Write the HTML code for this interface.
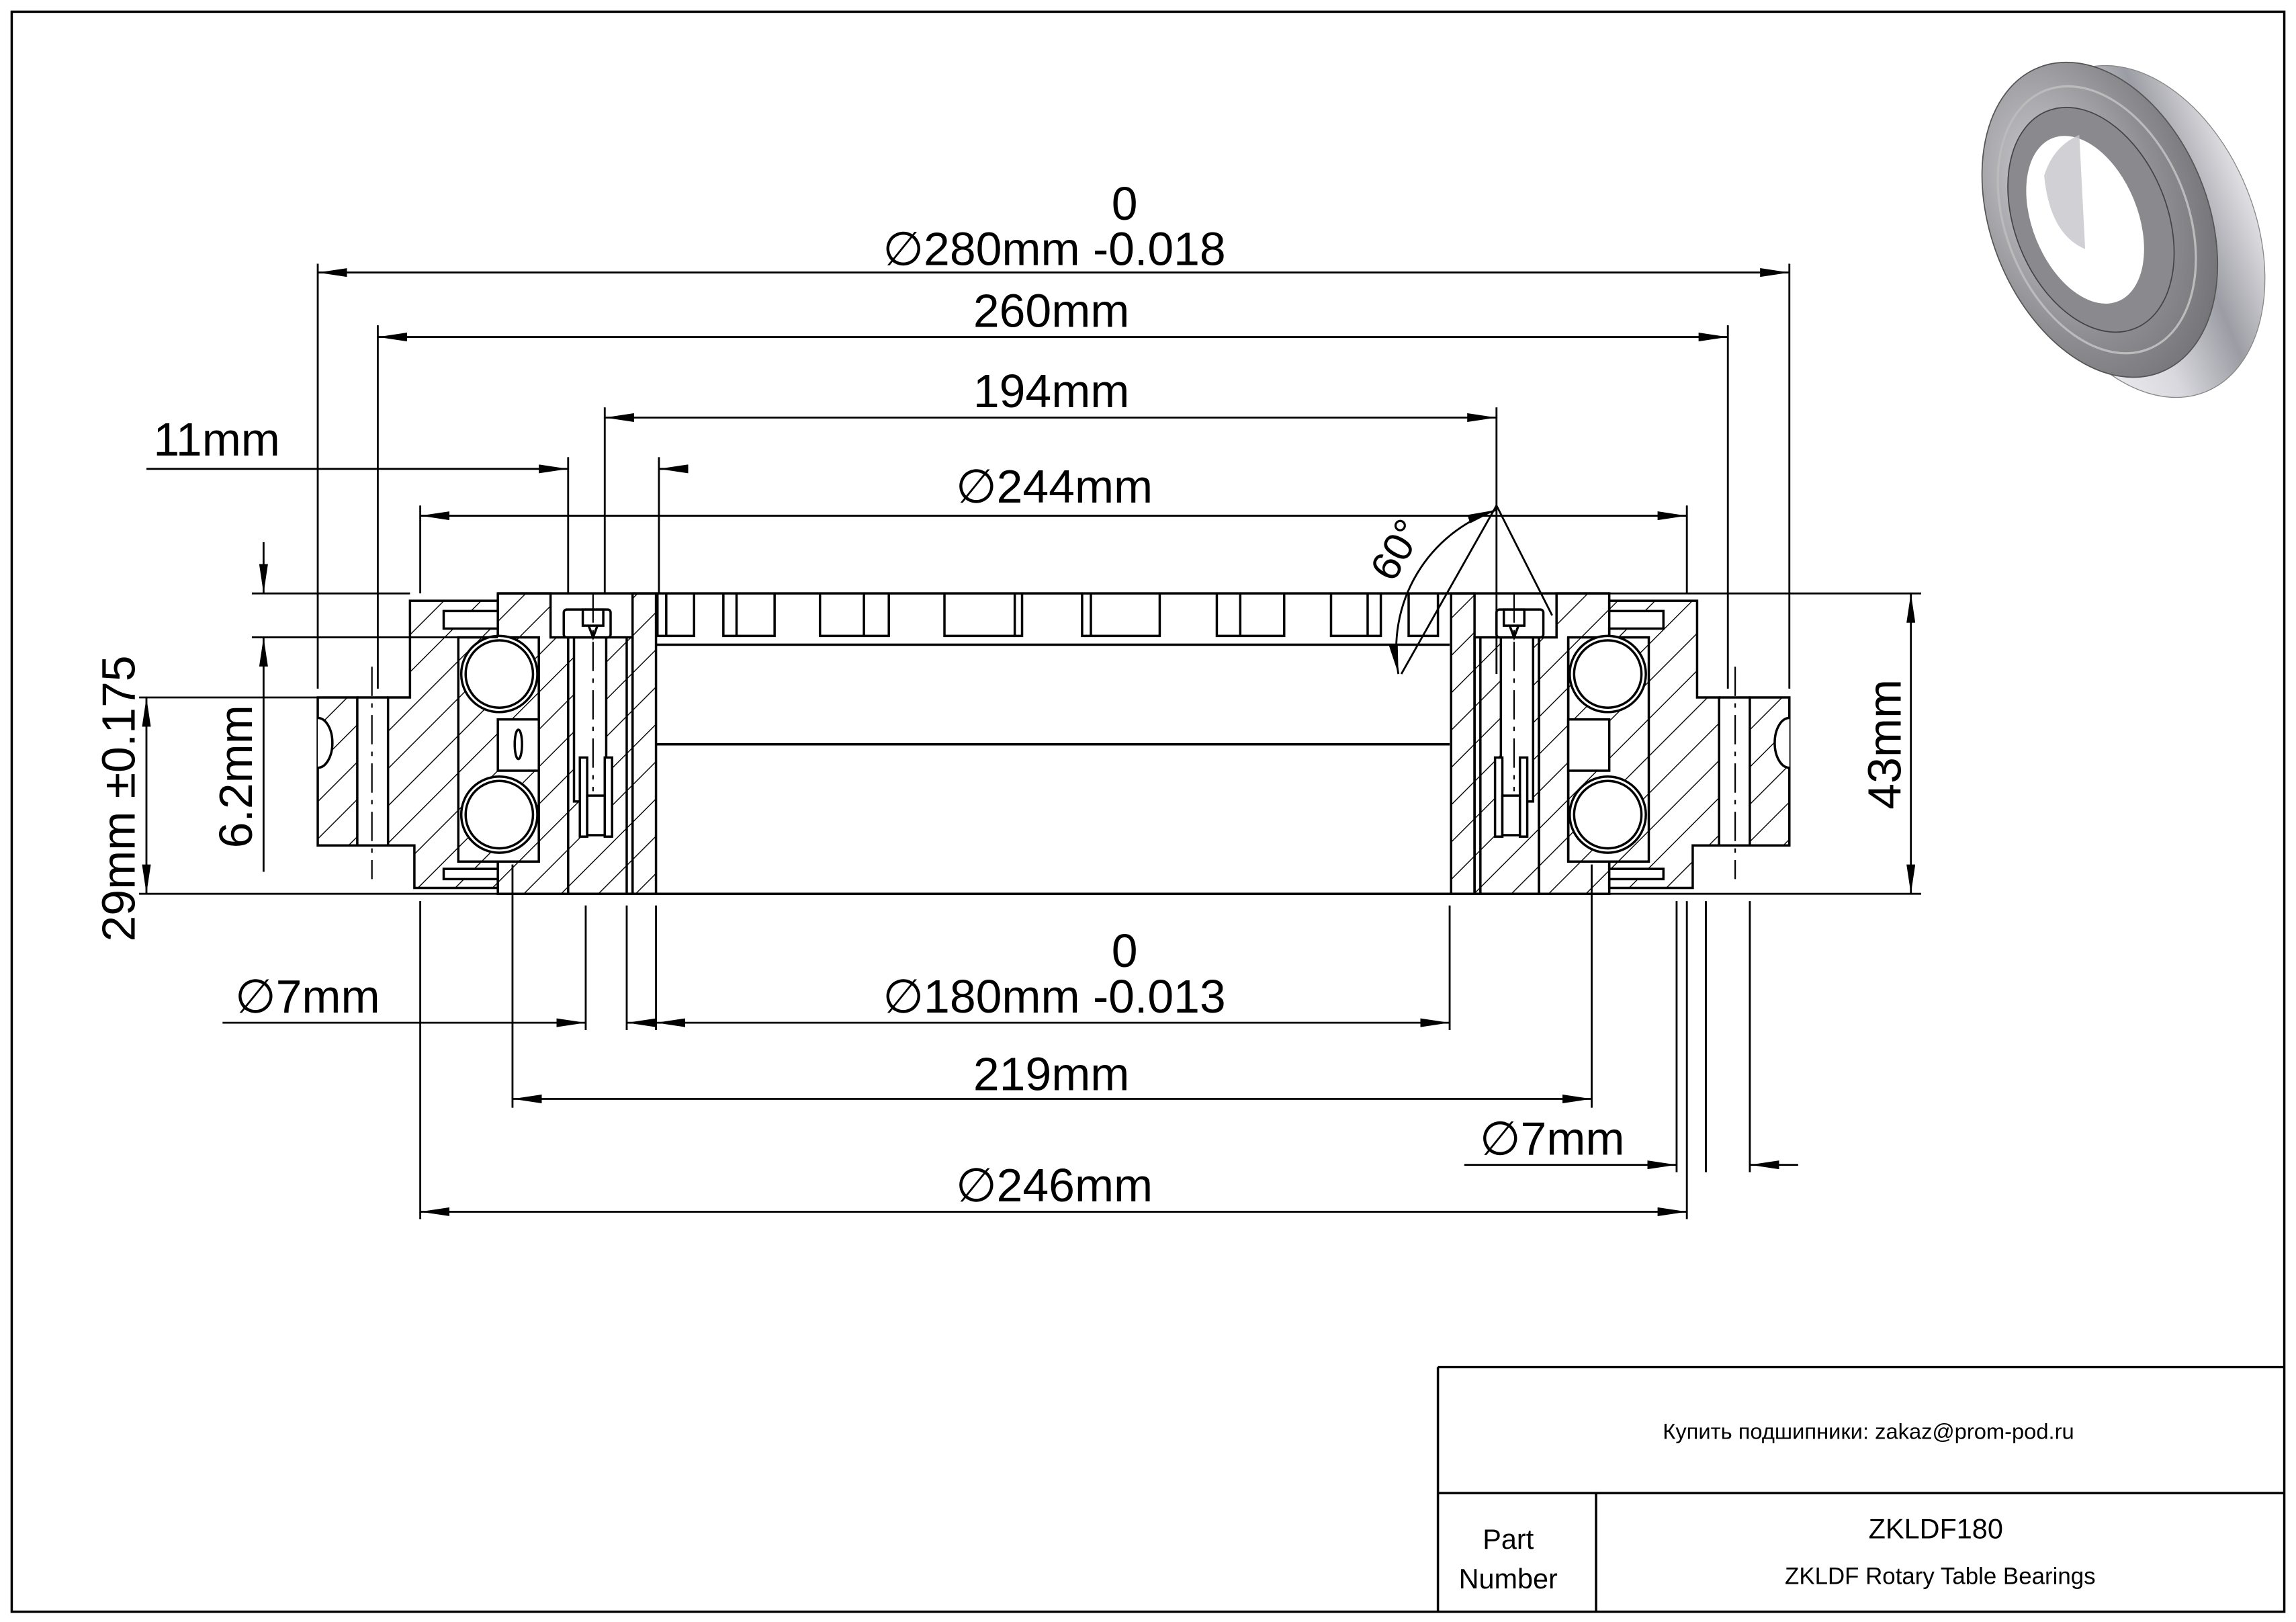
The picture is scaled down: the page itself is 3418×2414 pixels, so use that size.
<!DOCTYPE html>
<html><head><meta charset="utf-8"><style>
html,body{margin:0;padding:0;background:#fff;}
svg{display:block;}
text{font-family:"Liberation Sans",sans-serif;fill:#000;}
</style></head><body>
<svg width="3418" height="2414" viewBox="0 0 1568 1107" preserveAspectRatio="none" xmlns="http://www.w3.org/2000/svg">
<defs>
<pattern id="h" width="18" height="18" patternUnits="userSpaceOnUse" patternTransform="rotate(45)"><line x1="0" y1="0" x2="0" y2="18" stroke="#000" stroke-width="1.3"/></pattern>
<pattern id="hm" width="18" height="18" patternUnits="userSpaceOnUse" patternTransform="rotate(-45)"><line x1="0" y1="0" x2="0" y2="18" stroke="#000" stroke-width="1.3"/></pattern>
<marker id="a" viewBox="0 0 20 6" refX="20" refY="3" markerWidth="20" markerHeight="6" markerUnits="userSpaceOnUse" orient="auto-start-reverse"><path d="M0,0 L20,3 L0,6 Z" fill="#000"/></marker>
<radialGradient id="met" cx="0.35" cy="0.35" r="0.8"><stop offset="0" stop-color="#d0d0d4"/><stop offset="0.6" stop-color="#8e8e92"/><stop offset="1" stop-color="#6c6c70"/></radialGradient>
<linearGradient id="side" x1="0" y1="0" x2="1" y2="0"><stop offset="0" stop-color="#f4f4f6"/><stop offset="0.4" stop-color="#d8d8de"/><stop offset="0.7" stop-color="#9c9ca4"/><stop offset="1" stop-color="#e0e0e4"/></linearGradient>
</defs>
<rect x="0" y="0" width="1568" height="1107" fill="#fff"/>
<rect x="8" y="8" width="1552" height="1092" fill="none" stroke="#000" stroke-width="1.6"/>

<!-- 3D render -->
<g>
  <ellipse cx="1462" cy="158" rx="78" ry="118" transform="rotate(-22 1462 158)" fill="url(#side)" stroke="#888" stroke-width="0.6"/>
  <ellipse cx="1434" cy="150" rx="74" ry="112" transform="rotate(-22 1434 150)" fill="url(#met)" stroke="#555" stroke-width="0.8"/>
  <ellipse cx="1432" cy="150" rx="62" ry="95" transform="rotate(-22 1432 150)" fill="none" stroke="#bbb" stroke-width="1.5"/>
  <ellipse cx="1428" cy="150" rx="52" ry="80" transform="rotate(-22 1428 150)" fill="#8a8a8e" stroke="#444" stroke-width="0.8"/>
  <ellipse cx="1424" cy="150" rx="36" ry="60" transform="rotate(-22 1424 150)" fill="#fff"/>
  <path d="M1396,120 Q1402,100 1420,92 L1424,170 Q1400,160 1396,120 Z" fill="#c4c4ca" opacity="0.8"/>
</g>

<!-- left section -->
<g stroke="#000" stroke-width="1.6">
  <rect x="217" y="476" width="27" height="101" fill="url(#h)"/>
  <path d="M217,490 A10 17 0 0 1 217,524" fill="#fff"/>
  <path d="M265,476 L280,476 L280,410 L340,410 L340,417 L303,417 L303,429 L340,429 L340,435 L313,435 L313,588 L340,588 L340,593 L303,593 L303,600 L340,600 L340,606 L283,606 L283,577 L265,577 Z" fill="url(#h)"/>
  <line x1="244" y1="476" x2="265" y2="476"/><line x1="244" y1="577" x2="265" y2="577"/>
  <line x1="254" y1="455" x2="254" y2="600" stroke-width="1" stroke-dasharray="20,5,3,5"/>
  <path d="M340,405 L376,405 L376,435 L388,435 L388,610 L340,610 L340,588 L368,588 L368,435 L340,435 Z" fill="url(#h)"/>
  <rect x="313" y="435" width="55" height="153" fill="url(#h)" stroke="none"/>
  <line x1="368" y1="435" x2="368" y2="588"/>
  <circle cx="341" cy="460" r="26" fill="#fff"/><circle cx="341" cy="460" r="23" fill="#fff"/>
  <circle cx="341" cy="556" r="26" fill="#fff"/><circle cx="341" cy="556" r="23" fill="#fff"/>
  <rect x="340" y="491" width="28" height="35" fill="#fff"/>
  <ellipse cx="354" cy="508" rx="2.5" ry="10" fill="none"/>
  <rect x="388" y="435" width="44" height="175" fill="url(#h)"/>
  <rect x="392" y="435" width="22" height="112" fill="#fff"/>
  <rect x="385" y="416" width="32" height="19" rx="2" fill="#fff"/>
  <rect x="398" y="416" width="14" height="11" fill="#fff"/>
  <path d="M402,427 L405,435 L408,427" fill="none"/>
  <rect x="396" y="517" width="5" height="54" fill="#fff"/>
  <rect x="413" y="517" width="5" height="54" fill="#fff"/>
  <rect x="401" y="543" width="12" height="27" fill="#fff"/>
  <line x1="405" y1="405" x2="405" y2="540" stroke-width="1" stroke-dasharray="20,5,3,5"/>
  <rect x="432" y="405" width="16" height="205" fill="url(#h)"/>
  <line x1="428" y1="435" x2="428" y2="610"/>
</g>
<!-- right (mirrored) -->
<g transform="translate(1439,0) scale(-1,1)" stroke="#000" stroke-width="1.6">
  <rect x="217" y="476" width="27" height="101" fill="url(#hm)"/>
  <path d="M217,490 A10 17 0 0 1 217,524" fill="#fff"/>
  <path d="M265,476 L280,476 L280,410 L340,410 L340,417 L303,417 L303,429 L340,429 L340,435 L313,435 L313,588 L340,588 L340,593 L303,593 L303,600 L340,600 L340,606 L283,606 L283,577 L265,577 Z" fill="url(#hm)"/>
  <line x1="244" y1="476" x2="265" y2="476"/><line x1="244" y1="577" x2="265" y2="577"/>
  <line x1="254" y1="455" x2="254" y2="600" stroke-width="1" stroke-dasharray="20,5,3,5"/>
  <path d="M340,405 L376,405 L376,435 L388,435 L388,610 L340,610 L340,588 L368,588 L368,435 L340,435 Z" fill="url(#hm)"/>
  <rect x="313" y="435" width="55" height="153" fill="url(#hm)" stroke="none"/>
  <line x1="368" y1="435" x2="368" y2="588"/>
  <circle cx="341" cy="460" r="26" fill="#fff"/><circle cx="341" cy="460" r="23" fill="#fff"/>
  <circle cx="341" cy="556" r="26" fill="#fff"/><circle cx="341" cy="556" r="23" fill="#fff"/>
  <rect x="340" y="491" width="28" height="35" fill="#fff"/>
  <rect x="388" y="435" width="44" height="175" fill="url(#hm)"/>
  <rect x="392" y="435" width="22" height="112" fill="#fff"/>
  <rect x="385" y="416" width="32" height="19" rx="2" fill="#fff"/>
  <rect x="398" y="416" width="14" height="11" fill="#fff"/>
  <path d="M402,427 L405,435 L408,427" fill="none"/>
  <rect x="396" y="517" width="5" height="54" fill="#fff"/>
  <rect x="413" y="517" width="5" height="54" fill="#fff"/>
  <rect x="401" y="543" width="12" height="27" fill="#fff"/>
  <line x1="405" y1="405" x2="405" y2="540" stroke-width="1" stroke-dasharray="20,5,3,5"/>
  <rect x="432" y="405" width="16" height="205" fill="url(#hm)"/>
  <line x1="428" y1="435" x2="428" y2="610"/>
</g>

<!-- center bore / slots -->
<g stroke="#000" stroke-width="1.6" fill="none">
  <line x1="340" y1="405" x2="1099" y2="405"/>
  <line x1="448" y1="440" x2="990" y2="440"/>
  <line x1="448" y1="508" x2="990" y2="508"/>
  <line x1="340" y1="610" x2="1099" y2="610"/>
  <path d="M449,405 V434 H474 V405 M455,405 V434"/>
  <path d="M494,405 V434 H529 V405 M503,405 V434"/>
  <path d="M560,405 V434 H607 V405 M590,405 V434"/>
  <path d="M645,405 V434 H698 V405 M693,405 V434"/>
  <path d="M739,405 V434 H792 V405 M745,405 V434"/>
  <path d="M831,405 V434 H877 V405 M847,405 V434"/>
  <path d="M909,405 V434 H943 V405 M934,405 V434"/>
  <path d="M962,405 V434 H982 V405"/>
</g>

<!-- dimension & extension lines -->
<g stroke="#000" stroke-width="1.3" fill="none">
  <line x1="217" y1="180" x2="217" y2="470"/><line x1="1222" y1="180" x2="1222" y2="470"/>
  <line x1="258" y1="222" x2="258" y2="470"/><line x1="1180" y1="222" x2="1180" y2="470"/>
  <line x1="413" y1="278" x2="413" y2="405"/><line x1="1022" y1="278" x2="1022" y2="460"/>
  <line x1="388" y1="312" x2="388" y2="405"/><line x1="450" y1="312" x2="450" y2="405"/>
  <line x1="287" y1="345" x2="287" y2="405"/><line x1="1152" y1="345" x2="1152" y2="405"/>
  <line x1="172" y1="405" x2="280" y2="405"/><line x1="172" y1="435" x2="340" y2="435"/>
  <line x1="95" y1="476" x2="217" y2="476"/><line x1="95" y1="610" x2="340" y2="610"/>
  <line x1="1099" y1="405" x2="1312" y2="405"/><line x1="1099" y1="610" x2="1312" y2="610"/>
  <line x1="400" y1="618" x2="400" y2="703"/><line x1="428" y1="618" x2="428" y2="703"/>
  <line x1="448" y1="618" x2="448" y2="703"/><line x1="990" y1="618" x2="990" y2="703"/>
  <line x1="350" y1="590" x2="350" y2="756"/><line x1="1087" y1="590" x2="1087" y2="756"/>
  <line x1="287" y1="615" x2="287" y2="832"/><line x1="1152" y1="615" x2="1152" y2="832"/>
  <line x1="1145" y1="615" x2="1145" y2="800"/><line x1="1165" y1="615" x2="1165" y2="800"/><line x1="1195" y1="615" x2="1195" y2="800"/>
  <line x1="217" y1="186" x2="1222" y2="186" marker-start="url(#a)" marker-end="url(#a)"/>
  <line x1="258" y1="230" x2="1180" y2="230" marker-start="url(#a)" marker-end="url(#a)"/>
  <line x1="413" y1="285" x2="1022" y2="285" marker-start="url(#a)" marker-end="url(#a)"/>
  <line x1="100" y1="320" x2="388" y2="320" marker-end="url(#a)"/>
  <line x1="470" y1="320" x2="450" y2="320" marker-end="url(#a)"/>
  <line x1="287" y1="352" x2="1152" y2="352" marker-start="url(#a)" marker-end="url(#a)"/>
  <line x1="180" y1="370" x2="180" y2="405" marker-end="url(#a)"/>
  <line x1="180" y1="595" x2="180" y2="435" marker-end="url(#a)"/>
  <line x1="100" y1="476" x2="100" y2="610" marker-start="url(#a)" marker-end="url(#a)"/>
  <line x1="1305" y1="405" x2="1305" y2="610" marker-start="url(#a)" marker-end="url(#a)"/>
  <line x1="152" y1="698" x2="400" y2="698" marker-end="url(#a)"/>
  <line x1="448" y1="698" x2="428" y2="698" marker-end="url(#a)"/>
  <line x1="448" y1="698" x2="990" y2="698" marker-start="url(#a)" marker-end="url(#a)"/>
  <line x1="350" y1="750" x2="1087" y2="750" marker-start="url(#a)" marker-end="url(#a)"/>
  <line x1="1000" y1="795" x2="1145" y2="795" marker-end="url(#a)"/>
  <line x1="1228" y1="795" x2="1195" y2="795" marker-end="url(#a)"/>
  <line x1="287" y1="827" x2="1152" y2="827" marker-start="url(#a)" marker-end="url(#a)"/>
  <line x1="1022" y1="345" x2="1060" y2="420"/>
  <line x1="1022" y1="345" x2="957" y2="460"/>
  <path d="M955,460 A100 100 0 0 1 1022,348" marker-start="url(#a)" marker-end="url(#a)"/>
</g>

<g font-size="32" text-anchor="middle">
  <text x="768" y="150">0</text>
  <text x="720" y="181">∅280mm -0.018</text>
  <text x="718" y="223">260mm</text>
  <text x="718" y="278">194mm</text>
  <text x="148" y="311">11mm</text>
  <text x="720" y="343">∅244mm</text>
  <text x="768" y="660">0</text>
  <text x="720" y="691">∅180mm -0.013</text>
  <text x="210" y="691">∅7mm</text>
  <text x="718" y="744">219mm</text>
  <text x="1060" y="788">∅7mm</text>
  <text x="720" y="820">∅246mm</text>
  <text transform="translate(172,530) rotate(-90)">6.2mm</text>
  <text transform="translate(92,545) rotate(-90)">29mm ±0.175</text>
  <text transform="translate(1298,508) rotate(-90)">43mm</text>
  <text transform="translate(962,380) rotate(-60)" font-size="28">60°</text>
</g>

<g stroke="#000" stroke-width="1.6" fill="none">
  <line x1="982" y1="933" x2="1560" y2="933"/>
  <line x1="982" y1="933" x2="982" y2="1100"/>
  <line x1="982" y1="1019" x2="1560" y2="1019"/>
  <line x1="1090" y1="1019" x2="1090" y2="1100"/>
</g>
<g text-anchor="middle">
  <text x="1276" y="982" font-size="15">Купить подшипники: zakaz@prom-pod.ru</text>
  <text x="1030" y="1057" font-size="19">Part</text>
  <text x="1030" y="1084" font-size="19">Number</text>
  <text x="1322" y="1050" font-size="19">ZKLDF180</text>
  <text x="1325" y="1081" font-size="16">ZKLDF Rotary Table Bearings</text>
</g>
</svg>
</body></html>
